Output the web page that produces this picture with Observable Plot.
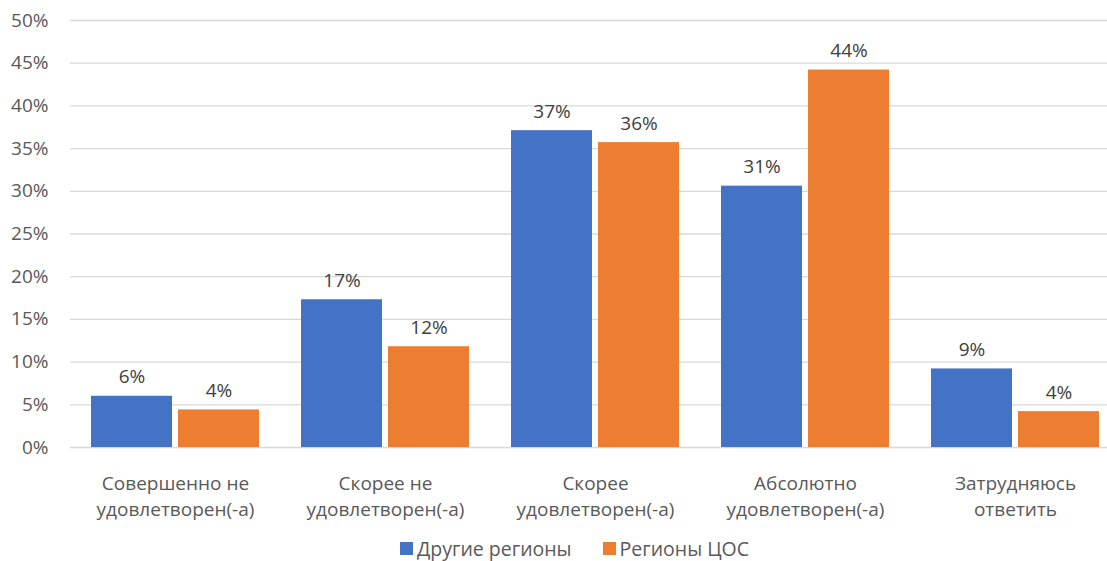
<!DOCTYPE html>
<html><head><meta charset="utf-8">
<script src="https://cdn.jsdelivr.net/npm/d3@7"></script>
<script src="https://cdn.jsdelivr.net/npm/@observablehq/plot@0.6"></script>
<style>
body{margin:0;overflow:hidden;background:#fff;font-family:"Open Sans",sans-serif;width:1107px;height:561px;position:relative}
#chart{position:absolute;left:0;top:0}
#legend{position:absolute;top:536px;left:400px;display:flex;align-items:center;font-size:19.5px;color:#595959;height:24px}
#legend .item{display:flex;align-items:center;margin-right:31px}
#legend .sw{width:13px;height:13px;margin-right:4px}
</style></head><body><div id="chart"></div><div id="legend"></div>
<script>
const categories = ["Совершенно не удовлетворен(-а)","Скорее не удовлетворен(-а)","Скорее удовлетворен(-а)","Абсолютно удовлетворен(-а)","Затрудняюсь ответить"];
const tickLabels = ["Совершенно не\nудовлетворен(-а)","Скорее не\nудовлетворен(-а)","Скорее\nудовлетворен(-а)","Абсолютно\nудовлетворен(-а)","Затрудняюсь\nответить"];
const seriesNames = ["Другие регионы","Регионы ЦОС"];
const otherRegions = [6.0, 17.3, 37.1, 30.6, 9.2];
const cosRegions = [4.4, 11.8, 35.7, 44.2, 4.2];
const colors = ["#4472C4","#ED7D31"];
const yTicks = [0,5,10,15,20,25,30,35,40,45,50];

const rows = categories.flatMap((c,i)=>[
  {category:c, series:seriesNames[0], value:otherRegions[i]},
  {category:c, series:seriesNames[1], value:cosRegions[i]}
]);
const labelOf = new Map(categories.map((c,i)=>[c,tickLabels[i]]));

const chart = Plot.plot({
  width:1120, height:525,
  marginLeft:70, marginRight:0, marginTop:20, marginBottom:78,
  style:{fontFamily:'"Open Sans", sans-serif', fontSize:"19px", color:"#595959", background:"#fff", maxWidth:"none", overflow:"visible"},
  fx:{domain:categories, paddingInner:0.2, paddingOuter:0.1, label:null},
  x:{domain:seriesNames, paddingInner:0.07, paddingOuter:0, axis:null},
  y:{domain:[0,50], axis:null},
  color:{domain:seriesNames, range:colors},
  marks:[
    Plot.ruleY(yTicks,{y:d=>d, stroke:"#d9d9d9", strokeWidth:1.3, insetLeft:-21, insetRight:-21}),
    Plot.axisY(yTicks,{tickSize:0, tickPadding:43, tickFormat:d=>d+"%", fill:"#595959", fontSize:19, label:null}),
    Plot.axisFx({anchor:"bottom", tickSize:0, tickPadding:24, tickFormat:c=>labelOf.get(c), label:null, lineHeight:1.38, fill:"#595959", fontSize:19}),
    Plot.barY(rows,{fx:"category", x:"series", y:"value", fill:"series"}),
    Plot.text(rows,{fx:"category", x:"series", y:"value", text:d=>Math.round(d.value)+"%", dy:-13, lineAnchor:"bottom", fill:"#404040", fontSize:19})
  ]
});
document.getElementById("chart").appendChild(chart);

const legend = document.getElementById("legend");
seriesNames.forEach((s,i)=>{
  const it = document.createElement("div"); it.className="item";
  const sw = document.createElement("div"); sw.className="sw"; sw.style.background=colors[i];
  const t = document.createElement("span"); t.textContent=s;
  it.appendChild(sw); it.appendChild(t); legend.appendChild(it);
});
</script></body></html>
